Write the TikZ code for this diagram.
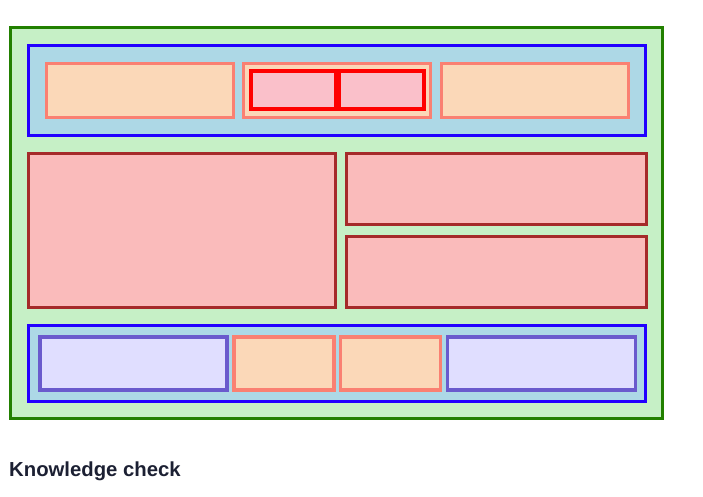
\documentclass[tikz,border=0pt]{standalone}
\usepackage{fontspec}
\setmainfont{Liberation Sans}
\definecolor{gfill}{RGB}{198,240,198}
\definecolor{gline}{RGB}{34,128,0}
\definecolor{bfill}{RGB}{173,216,230}
\definecolor{bline}{RGB}{34,0,255}
\definecolor{pfill}{RGB}{251,216,184}
\definecolor{pline}{RGB}{250,128,114}
\definecolor{rfill}{RGB}{250,192,202}
\definecolor{rline}{RGB}{255,0,0}
\definecolor{kfill}{RGB}{250,187,187}
\definecolor{kline}{RGB}{165,42,42}
\definecolor{lfill}{RGB}{224,222,255}
\definecolor{lline}{RGB}{106,90,205}
\definecolor{txt}{RGB}{28,32,51}
\tikzset{
  greenbox/.style={draw=gline,fill=gfill,line width=3pt},
  bluebox/.style={draw=bline,fill=bfill,line width=3pt},
  peachbox/.style={draw=pline,fill=pfill,line width=3pt},
  redbox/.style={draw=rline,fill=rfill,line width=4pt},
  brownbox/.style={draw=kline,fill=kfill,line width=3pt},
  lavbox/.style={draw=lline,fill=lfill,line width=3.5pt},
  peachbox2/.style={draw=pline,fill=pfill,line width=3.5pt},
}
\begin{document}
\begin{tikzpicture}[x=1pt,y=-1pt]
\useasboundingbox (0,0) rectangle (703,496);
% outer
\draw[greenbox] (10.5,27.5) rectangle (662.5,418.5);
% top band
\draw[bluebox] (28.5,45.5) rectangle (645.5,135.5);
\draw[peachbox] (46.5,63.5) rectangle (233.5,117.5);
\draw[peachbox] (243.5,63.5) rectangle (430.5,117.5);
\draw[redbox] (251,71) rectangle (335.5,109);
\draw[redbox] (338.5,71) rectangle (424,109);
\draw[peachbox] (441.5,63.5) rectangle (628.5,117.5);
% middle
\draw[brownbox] (28.5,153.5) rectangle (335.5,307.5);
\draw[brownbox] (346.5,153.5) rectangle (646.5,224.5);
\draw[brownbox] (346.5,236.5) rectangle (646.5,307.5);
% bottom band
\draw[bluebox] (28.5,325.5) rectangle (645.5,401);
\draw[lavbox] (40,337) rectangle (227,390);
\draw[peachbox2] (234,337) rectangle (334,390);
\draw[peachbox2] (340.5,337) rectangle (440.5,390);
\draw[lavbox] (447.5,337) rectangle (635.5,390);
% caption
\node[anchor=base west,inner sep=0pt,text=txt,font=\bfseries\fontsize{20.3}{23}\selectfont] (cap) at (9,476) {Knowledge check};
\end{tikzpicture}
\end{document}
